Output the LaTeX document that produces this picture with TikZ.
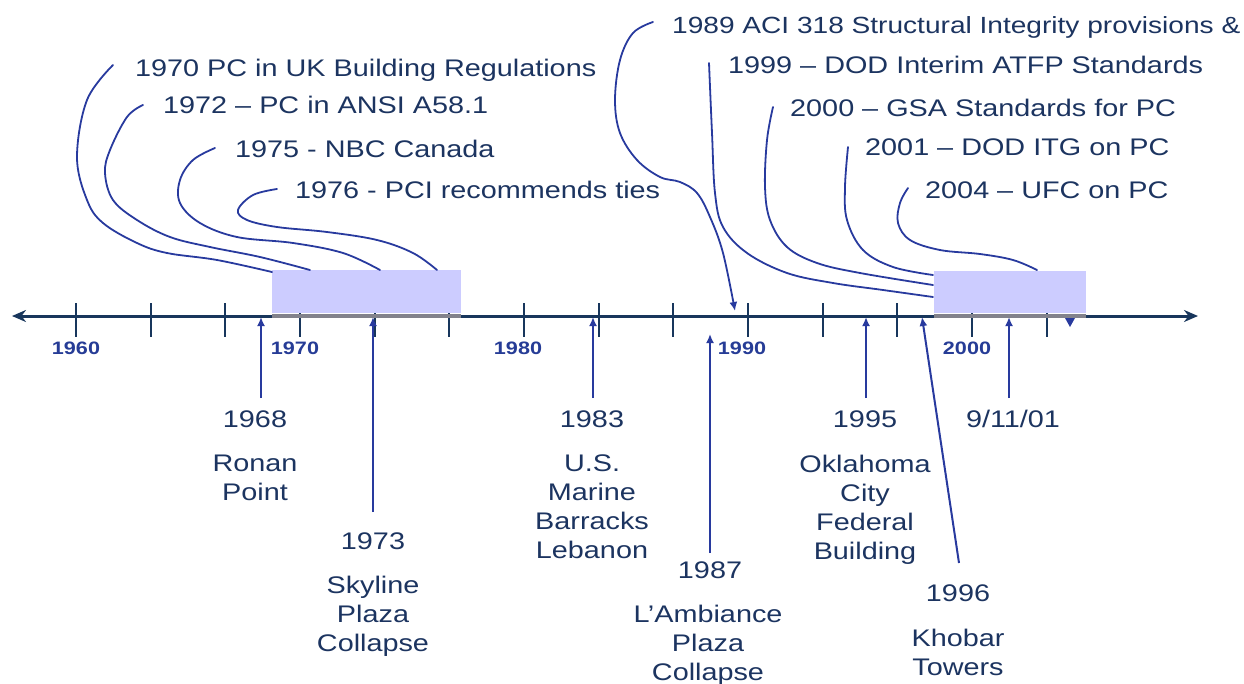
\documentclass[tikz,border=0pt]{standalone}
\usepackage{fontspec}
\setmainfont[FakeStretch=1.2]{Liberation Sans}
\usetikzlibrary{arrows.meta}
\definecolor{ink}{RGB}{28,52,96}
\definecolor{axiscol}{RGB}{24,54,92}
\definecolor{leader}{RGB}{40,58,158}
\definecolor{ticklab}{RGB}{38,60,150}
\definecolor{bandfill}{RGB}{204,204,255}
\definecolor{bandedge}{RGB}{130,130,140}

\begin{document}
\begin{tikzpicture}[x=1pt,y=-1pt,
  lab/.style={text=ink, font=\fontsize{24}{29}\selectfont, inner sep=0pt},
  toplab/.style={lab, anchor=base west},
  evt/.style={lab, align=center, anchor=north},
  yr/.style={lab, anchor=center},
  ticklabel/.style={text=ticklab, font=\fontsize{18}{20}\selectfont\bfseries, inner sep=0pt},
  leaderline/.style={draw=leader, line width=1.8pt, line cap=round},
  pointer/.style={draw=leader, line width=2pt, -{Latex[length=9pt,width=8pt]}},
  band/.style={fill=bandfill, inner sep=0pt, anchor=north west},
  tickmark/.style={draw=axiscol, line width=2.2pt},
]
\useasboundingbox (0,0) rectangle (1244,683);

% time axis with arrows at both ends
\coordinate (axL) at (12,316);
\coordinate (axR) at (1198,316);
\draw[axiscol, line width=3pt, {Stealth[length=14pt,width=12pt]}-{Stealth[length=14pt,width=12pt]}] (axL) -- (axR);
\foreach \x in {76,151,225,300,375,449,524,599,673,748,823,897,972,1047}
  \draw[tickmark] (\x,303) -- (\x,337);

% decade labels
\node[ticklabel] (d1960) at (76,348) {1960};
\node[ticklabel] (d1970) at (295,348) {1970};
\node[ticklabel] (d1980) at (518,348) {1980};
\node[ticklabel] (d1990) at (742,348) {1990};
\node[ticklabel] (d2000) at (967,348) {2000};

% shaded periods
\node[band, minimum width=189pt, minimum height=43pt] (lbox) at (272,270) {};
\node[band, minimum width=152pt, minimum height=42pt] (rbox) at (934,271) {};
\draw[bandedge, line width=4pt] (lbox.south west) ++(0,2.5) -- ++(189,0);
\draw[bandedge, line width=4pt] (rbox.south west) ++(0,2.5) -- ++(152,0);

% code and standards milestones (above the axis)
\node[toplab] (t1970) at (135,76.6) {1970 PC in UK Building Regulations};
\node[toplab] (t1972) at (163,113.6) {1972 – PC in ANSI A58.1};
\node[toplab] (t1975) at (235,157.6) {1975 - NBC Canada};
\node[toplab] (t1976) at (295,198.6) {1976 - PCI recommends ties};
\node[toplab, font=\fontsize{23.4}{28}\selectfont] (t1989) at (672,33.6) {1989 ACI 318 Structural Integrity provisions \&};
\node[toplab] (t1999) at (728,73.6) {1999 – DOD Interim ATFP Standards};
\node[toplab] (t2000) at (790,116.6) {2000 – GSA Standards for PC};
\node[toplab] (t2001) at (865,155.6) {2001 – DOD ITG on PC};
\node[toplab] (t2004) at (925,198.6) {2004 – UFC on PC};

% leader curves from the milestones to the shaded periods
\coordinate (s1970) at (113,65);   \coordinate (e1970) at (272,272);
\coordinate (s1972) at (143,105);  \coordinate (e1972) at (310,270);
\coordinate (s1975) at (215,148);  \coordinate (e1975) at (380,270);
\coordinate (s1976) at (277,189);  \coordinate (e1976) at (437,270);
\coordinate (s1989) at (653,22);   \coordinate (e1989) at (735,311);
\coordinate (s1999) at (709,63);   \coordinate (e1999) at (933,297);
\coordinate (s2000) at (773,107);  \coordinate (e2000) at (933,285);
\coordinate (s2001) at (848,147);  \coordinate (e2001) at (933,275);
\coordinate (s2004) at (908,188);  \coordinate (e2004) at (1037,270);

\draw[leaderline] plot[smooth, tension=0.6] coordinates {(s1970) (87,100) (77,157) (87,200) (103,223) (137,243) (167,253) (217,260) (e1970)};
\draw[leaderline] plot[smooth, tension=0.6] coordinates {(s1972) (127,117) (110,150) (105,173) (113,200) (137,220) (170,237) (210,247) (260,257) (e1972)};
\draw[leaderline] plot[smooth, tension=0.6] coordinates {(s1975) (193,160) (180,180) (180,203) (200,223) (237,237) (293,243) (343,253) (e1975)};
\draw[leaderline] plot[smooth, tension=0.6] coordinates {(s1976) (253,195) (238,210) (247,220) (277,227) (327,232) (377,240) (413,253) (e1976)};
\draw[leaderline, -{Latex[length=9pt,width=8pt]}] plot[smooth, tension=0.6] coordinates {(s1989) (633,33) (620,60) (615,100) (620,133) (637,160) (660,177) (680,182) (697,193) (710,217) (723,253) (e1989)};
\draw[leaderline] plot[smooth, tension=0.6] coordinates {(s1999) (712,133) (715,193) (723,227) (747,253) (787,273) (833,283) (883,290) (e1999)};
\draw[leaderline] plot[smooth, tension=0.6] coordinates {(s2000) (767,140) (765,187) (770,220) (787,247) (817,263) (860,273) (e2000)};
\draw[leaderline] plot[smooth, tension=0.6] coordinates {(s2001) (845,187) (847,220) (863,250) (893,267) (e2001)};
\draw[leaderline] plot[smooth, tension=0.6] coordinates {(s2004) (900,203) (898,223) (910,240) (940,250) (980,254) (1013,260) (e2004)};

% small marker below the axis
\fill[leader] (1065,318) -- (1075,318) -- (1070,327) -- cycle;

% collapse and attack events (below the axis)
\node[yr] (y1968) at (255,419) {1968};
\node[evt] (n1968) at (255,454.4) {Ronan\\Point};
\node[yr] (y1973) at (373,541) {1973};
\node[evt] (n1973) at (373,575.4) {Skyline\\Plaza\\Collapse};
\node[yr] (y1983) at (592,419) {1983};
\node[evt] (n1983) at (592,454.4) {U.S.\\Marine\\Barracks\\Lebanon};
\node[yr] (y1987) at (710,570) {1987};
\node[evt] (n1987) at (708,604.4) {L'Ambiance\\Plaza\\Collapse};
\node[yr] (y1995) at (865,419) {1995};
\node[evt] (n1995) at (865,454.4) {Oklahoma\\City\\Federal\\Building};
\node[yr] (y1996) at (958,593) {1996};
\node[evt] (n1996) at (958,628.4) {Khobar\\Towers};
\node[yr] (y2001) at (1013,419) {9/11/01};

% pointers from the events up to the axis
\coordinate (b1968) at (261,398);  \coordinate (p1968) at (261,317);
\coordinate (b1973) at (373,512);  \coordinate (p1973) at (373,317);
\coordinate (b1983) at (593,398);  \coordinate (p1983) at (593,317);
\coordinate (b1987) at (710,553);  \coordinate (p1987) at (710,334);
\coordinate (b1995) at (866,398);  \coordinate (p1995) at (866,317);
\coordinate (b1996) at (959,563);  \coordinate (p1996) at (922,317);
\coordinate (b2001) at (1009,398); \coordinate (p2001) at (1009,317);
\foreach \e in {1968,1973,1983,1987,1995,1996,2001}
  \draw[pointer] (b\e) -- (p\e);

\end{tikzpicture}
\end{document}
